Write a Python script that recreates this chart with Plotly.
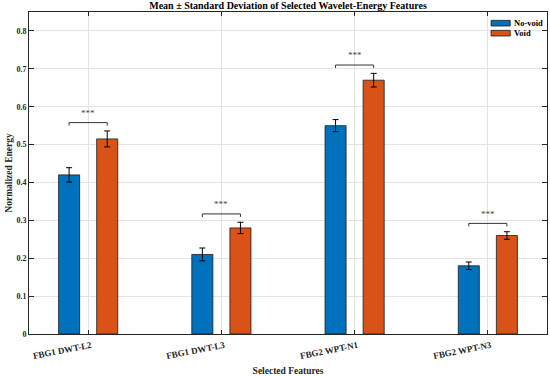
import plotly.graph_objects as go

categories = ["FBG1 DWT-L2", "FBG1 DWT-L3", "FBG2 WPT-N1", "FBG2 WPT-N3"]
novoid_mean = [0.42, 0.21, 0.55, 0.18]
novoid_sd = [0.019, 0.017, 0.016, 0.010]
void_mean = [0.515, 0.28, 0.67, 0.26]
void_sd = [0.021, 0.015, 0.018, 0.010]
sig_labels = ["***", "***", "***", "***"]
series_names = ["No-void", "Void"]
series_colors = ["#0072BD", "#D95319"]
yticks = [0, 0.1, 0.2, 0.3, 0.4, 0.5, 0.6, 0.7, 0.8]

FONT = "Liberation Serif"
idx = list(range(1, len(categories) + 1))
off = 0.143
bw = 0.158

fig = go.Figure()
for k, (name, col, means, sds) in enumerate(zip(series_names, series_colors,
                                                  [novoid_mean, void_mean], [novoid_sd, void_sd])):
    sgn = -1 if k == 0 else 1
    fig.add_trace(go.Bar(
        x=[i + sgn * off for i in idx], y=means, width=bw, name=name, showlegend=False,
        marker=dict(color=col, line=dict(color="#1a1a1a", width=0.8)),
        error_y=dict(type="data", array=sds, color="black", thickness=1, width=3),
    ))

shapes = []
annotations = []
for i, a, sa, b, sb, lab in zip(idx, novoid_mean, novoid_sd, void_mean, void_sd, sig_labels):
    top = max(a + sa, b + sb)
    yb = top + 0.022
    x0, x1 = i - off, i + off
    shapes.append(dict(type="path", xref="x", yref="y",
                       path=f"M {x0} {yb-0.008} L {x0} {yb} L {x1} {yb} L {x1} {yb-0.008}",
                       line=dict(color="#333333", width=1)))
    annotations.append(dict(x=i, y=yb + 0.026, xref="x", yref="y", text=lab, showarrow=False,
                            yanchor="middle", font=dict(family=FONT, size=9, color="#444444")))

# custom legend (top-right, inside axes)
leg_x0, leg_x1 = 0.892, 0.929
leg_rows = [(0.974, 0.9565), (0.943, 0.9255)]
for name, col, (ya, yb_) in zip(series_names, series_colors, leg_rows):
    shapes.append(dict(type="rect", xref="paper", yref="paper", x0=leg_x0, x1=leg_x1, y0=yb_, y1=ya,
                       fillcolor=col, line=dict(color="#1a1a1a", width=0.8)))
    annotations.append(dict(x=leg_x1 + 0.003, y=(ya + yb_) / 2, xref="paper", yref="paper",
                            text=f"<b>{name}</b>", showarrow=False, xanchor="left", yanchor="middle",
                            font=dict(family=FONT, size=8.5, color="black")))

fig.update_layout(
    width=550, height=376,
    margin=dict(l=29, r=3, t=12, b=42, autoexpand=False),
    paper_bgcolor="white", plot_bgcolor="white",
    title=dict(text="<b>Mean ± Standard Deviation of Selected Wavelet-Energy Features</b>",
               x=0.5, xref="paper", xanchor="center", y=1.0, yanchor="top", pad=dict(t=2),
               font=dict(family=FONT, size=10, color="black")),
    font=dict(family=FONT, color="#262626"),
    barmode="overlay",
    showlegend=False,
    shapes=shapes,
    annotations=annotations,
)
fig.update_xaxes(
    range=[1 - 0.444, len(categories) + 0.444],
    tickvals=idx, ticktext=[f"<b>{c}</b>" for c in categories],
    tickangle=-11, tickfont=dict(family=FONT, size=9, color="#262626"),
    ticklabelshift=3, ticklabelstandoff=2, automargin=False,
    showgrid=True, gridcolor="#e3e3e3", gridwidth=1,
    showline=True, linecolor="#262626", linewidth=1, mirror="ticks",
    ticks="inside", ticklen=4, tickcolor="#262626",
    title=dict(text="<b>Selected Features</b>", font=dict(family=FONT, size=9.5, color="#262626"), standoff=8),
    zeroline=False,
)
fig.update_yaxes(
    range=[0, 0.85], tickvals=yticks,
    ticktext=[f"<b>{t:g}</b>" for t in yticks],
    tickfont=dict(family=FONT, size=8, color="#262626"), automargin=False,
    showgrid=True, gridcolor="#e3e3e3", gridwidth=1,
    showline=True, linecolor="#262626", linewidth=1, mirror="ticks",
    ticks="inside", ticklen=5, tickcolor="#262626",
    title=dict(text="<b>Normalized Energy</b>", font=dict(family=FONT, size=9.5, color="#262626"), standoff=2),
    zeroline=False,
)
fig.write_html("out.html", config={"displayModeBar": False},
               post_script="document.body.style.margin='0';document.body.style.overflow='hidden';")
